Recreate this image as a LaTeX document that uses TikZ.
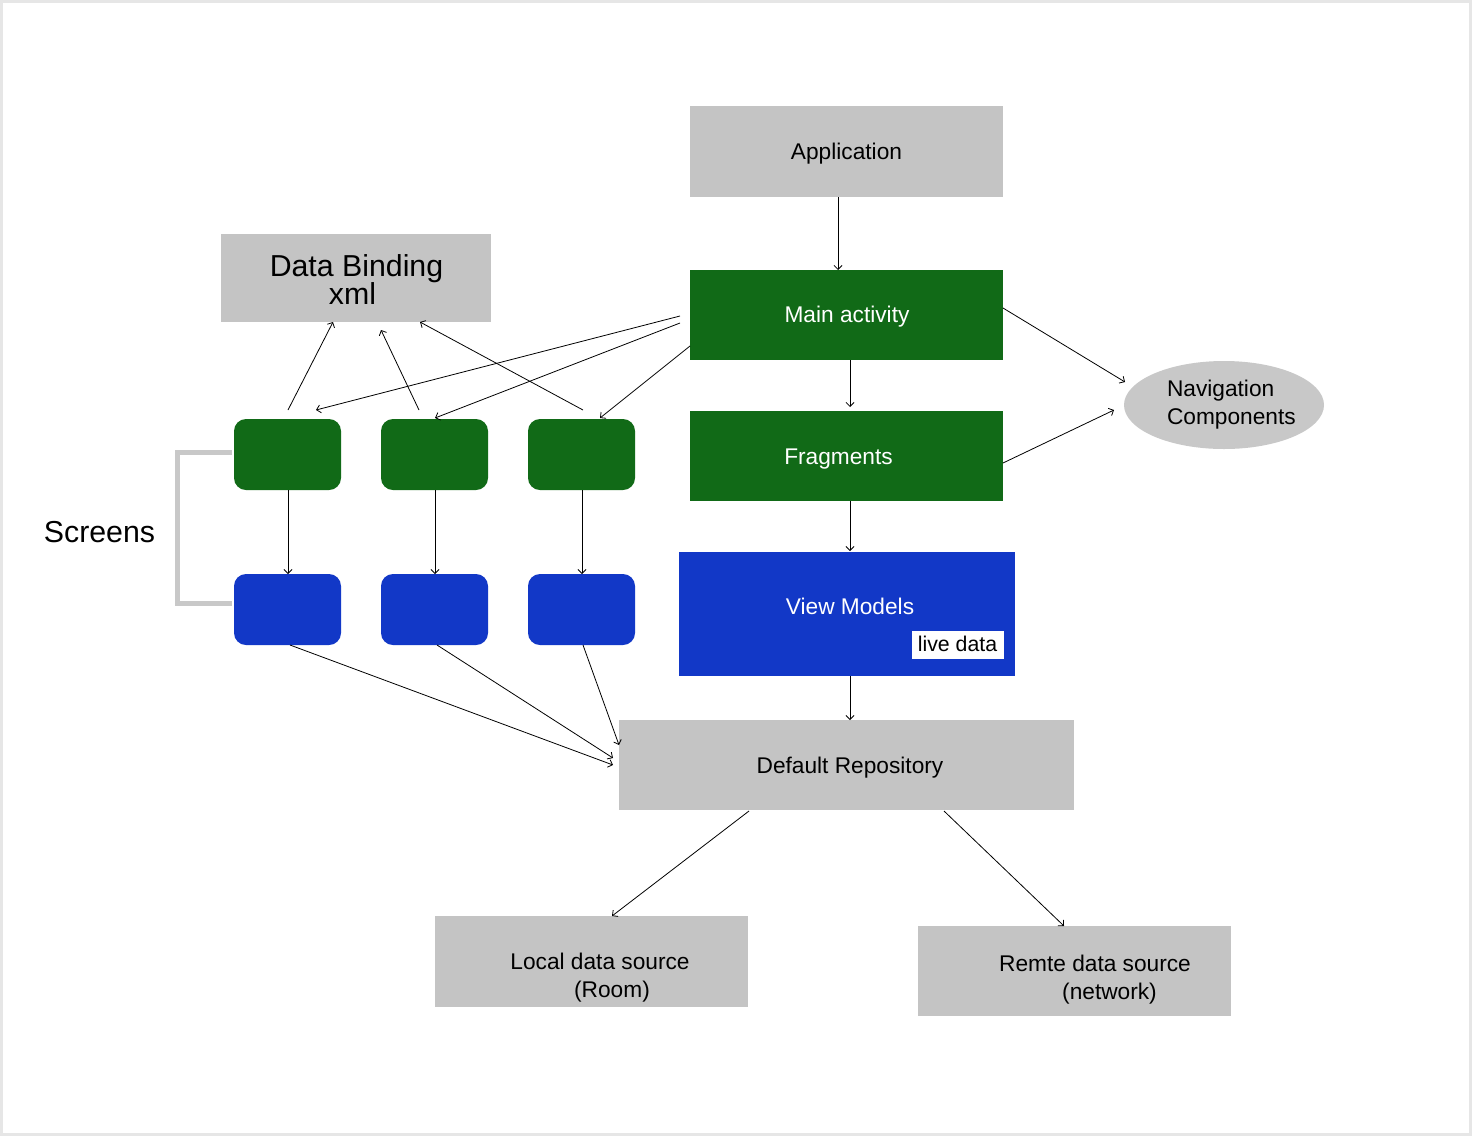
\documentclass[tikz,border=0pt]{standalone}
\usepackage{fontspec}
\setmainfont{Liberation Sans}
\usetikzlibrary{arrows.meta,calc,shapes.geometric}
\definecolor{boxgray}{HTML}{C4C4C4}
\definecolor{ellgray}{HTML}{C8C8C8}
\definecolor{darkgreen}{HTML}{116A17}
\definecolor{vmblue}{HTML}{1238C7}
\definecolor{framegray}{HTML}{E6E6E6}
\tikzset{
  box/.style={rectangle,inner sep=0pt,outer sep=0pt,draw=none},
  graybox/.style={box,fill=boxgray},
  greenbox/.style={box,fill=darkgreen},
  smallbox/.style={box,rounded corners=12pt,minimum width=107pt,minimum height=71pt},
  txt/.style={inner sep=0pt,outer sep=0pt,anchor=base,font=\fontsize{22.7}{28}\selectfont},
  bigtxt/.style={txt,font=\fontsize{30.3}{28}\selectfont},
  conn/.style={line width=0.8pt,-{Straight Barb[length=4pt,width=8pt,line width=0.8pt]}},
  bracketline/.style={draw=ellgray,line width=5pt},
}
\begin{document}
\begin{tikzpicture}[x=1pt,y=-1pt]
\useasboundingbox (0,0) rectangle (1472,1136);
\fill[framegray] (0,0) rectangle (1472,1136);
\fill[white] (3,3) rectangle (1469,1133);

% boxes
\node[graybox,minimum width=313pt,minimum height=91pt] (app) at (846.5,151.5) {};
\node[greenbox,minimum width=313pt,minimum height=90pt] (ma) at (846.5,315) {};
\node[greenbox,minimum width=313pt,minimum height=90pt] (fr) at (846.5,456) {};
\node[box,fill=vmblue,minimum width=336pt,minimum height=124pt] (vm) at (847,614) {};
\node[box,fill=white,minimum width=92pt,minimum height=28pt] (ld) at (958,645) {};
\node[graybox,minimum width=455pt,minimum height=90pt] (dr) at (846.5,765) {};
\node[graybox,minimum width=313pt,minimum height=91pt] (loc) at (591.5,961.5) {};
\node[graybox,minimum width=313pt,minimum height=90pt] (rem) at (1074.5,971) {};
\node[graybox,minimum width=270pt,minimum height=88pt] (db) at (356,278) {};
\node[ellipse,fill=ellgray,inner sep=0pt,outer sep=0pt,minimum width=200pt,minimum height=88pt] (nav) at (1224,405) {};

\node[smallbox,fill=darkgreen] (g1) at (287.5,454.5) {};
\node[smallbox,fill=darkgreen] (g2) at (434.5,454.5) {};
\node[smallbox,fill=darkgreen] (g3) at (581.5,454.5) {};
\node[smallbox,fill=vmblue] (b1) at (287.5,609.5) {};
\node[smallbox,fill=vmblue] (b2) at (434.5,609.5) {};
\node[smallbox,fill=vmblue] (b3) at (581.5,609.5) {};

% texts
\node[txt] (appt) at (846.5,159) {Application};
\node[txt,text=white] (mat) at (847,322) {Main activity};
\node[txt,text=white] (frt) at (838.5,464) {Fragments};
\node[txt,text=white] (vmt) at (850,614) {View Models};
\node[txt,font=\fontsize{21.3}{28}\selectfont] (ldt) at (957.5,651) {live data};
\node[txt] (drt) at (850,773) {Default Repository};
\node[txt] (loct1) at (600,969) {Local data source};
\node[txt] (loct2) at (612,997) {(Room)};
\node[txt] (remt1) at (1095,971) {Remte data source};
\node[txt] (remt2) at (1109.5,999) {(network)};
\node[txt,anchor=base west] (navt1) at (1167,396) {Navigation};
\node[txt,anchor=base west] (navt2) at (1167,424) {Components};
\node[bigtxt] (dbt1) at (356.5,276) {Data Binding};
\node[bigtxt] (dbt2) at (352.5,304) {xml};
\node[bigtxt] (scr) at (99.5,542) {Screens};

% bracket
\draw[bracketline] ($(g1.west)+(-2,-2)$) -- ++(-55,0) |- ($(b1.west)+(-2,-6.5)$);

% connectors
\draw[conn] ($(app.south)+(-8.5,0)$) -- ($(ma.north)+(-8.5,0)$);
\draw[conn] ($(ma.south)+(3.5,0)$) -- ($(fr.north)+(3.5,-4)$);
\draw[conn] ($(fr.south)+(3.5,0)$) -- ($(vm.north)+(3,-1)$);
\draw[conn] ($(vm.south)+(3,0)$) -- ($(dr.north)+(3.5,0)$);
\draw[conn] ($(ma.east)+(0,-7)$) -- ($(nav.center)+(-99,-23)$);
\draw[conn] ($(fr.east)+(0,7)$) -- ($(nav.center)+(-110,5)$);
\draw[conn] ($(ma.west)+(-10,1)$) -- ($(g1.north)+(28.5,-9)$);
\draw[conn] ($(ma.west)+(-10,8)$) -- ($(g2.north)+(0.5,-1)$);
\draw[conn] ($(ma.west)+(0,31)$) -- ($(g3.north)+(18.5,-1)$);
\draw[conn] ($(g1.north)+(0.5,-9)$) -- ($(db.south)+(-23,0)$);
\draw[conn] ($(g2.north)+(-15.5,-9)$) -- ($(db.south)+(25,8)$);
\draw[conn] ($(g3.north)+(1.5,-9)$) -- ($(db.south)+(64,0)$);
\draw[conn] ($(g1.south)+(0.5,0)$) -- ($(b1.north)+(0.5,0)$);
\draw[conn] ($(g2.south)+(0.5,0)$) -- ($(b2.north)+(0.5,0)$);
\draw[conn] ($(g3.south)+(0.5,0)$) -- ($(b3.north)+(0.5,0)$);
\draw[conn] ($(b1.south)+(2.5,0)$) -- ($(dr.west)+(-6,0)$);
\draw[conn] ($(b2.south)+(2.5,0)$) -- ($(dr.west)+(-6,-7)$);
\draw[conn] ($(b3.south)+(1.5,0)$) -- ($(dr.west)+(0,-20)$);
\draw[conn] ($(dr.south)+(-97.5,1)$) -- ($(loc.north)+(20.5,0)$);
\draw[conn] ($(dr.south)+(97.5,1)$) -- ($(rem.north)+(-10.5,0)$);
\end{tikzpicture}
\end{document}
